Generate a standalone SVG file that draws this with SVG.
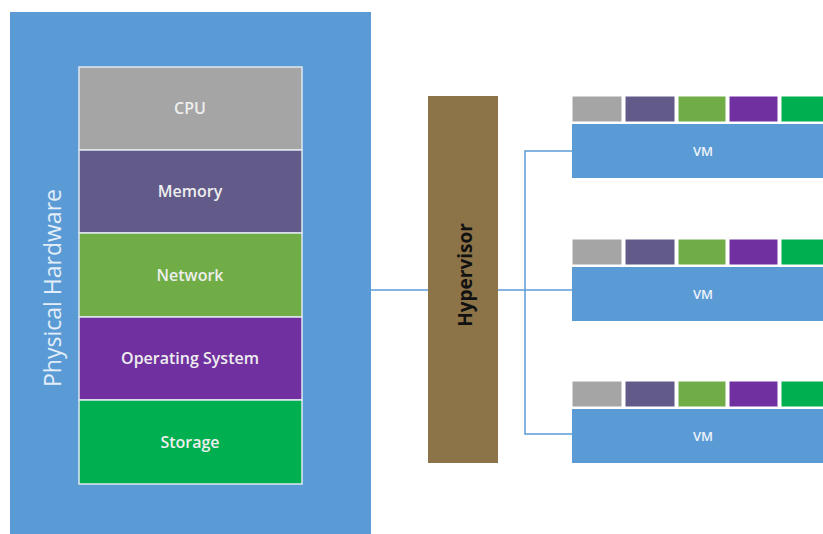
<svg xmlns="http://www.w3.org/2000/svg" width="823" height="534" viewBox="0 0 823 534">
<style>
.lbl{font-family:"Open Sans","Noto Sans",sans-serif;font-size:16px;font-weight:600;fill:#eeeeee;text-anchor:middle;dominant-baseline:central}
.vm{font-family:"Open Sans","Noto Sans",sans-serif;font-size:13px;font-weight:600;fill:#eef4fb;text-anchor:middle;dominant-baseline:central}
.layer{stroke:#dfe7f0;stroke-width:1.5}
.strip{stroke:#ffffff;stroke-width:1}
.conn{stroke:#5b9bd5;stroke-width:1.5;fill:none}
</style>
<rect width="823" height="534" fill="#ffffff"/>
<g id="physical-hardware">
<rect x="10" y="12" width="361" height="522" fill="#5b9bd5"/>
<text x="52" y="288" transform="rotate(-90 52 288)" font-family="Open Sans, Noto Sans, sans-serif" font-size="23" fill="#e3eef9" text-anchor="middle" dominant-baseline="central">Physical Hardware</text>
</g>
<g id="cpu"><rect class="layer" x="79" y="67" width="223" height="83" fill="#a5a5a5"/><text class="lbl" x="190" y="108">CPU</text></g>
<g id="memory"><rect class="layer" x="79" y="150" width="223" height="83" fill="#625a89"/><text class="lbl" x="190" y="191">Memory</text></g>
<g id="network"><rect class="layer" x="79" y="233" width="223" height="84" fill="#70ad47"/><text class="lbl" x="190" y="275">Network</text></g>
<g id="os"><rect class="layer" x="79" y="317" width="223" height="83" fill="#7030a0"/><text class="lbl" x="190" y="358">Operating System</text></g>
<g id="storage"><rect class="layer" x="79" y="400" width="223" height="84" fill="#00b050"/><text class="lbl" x="190" y="442">Storage</text></g>
<g id="connectors">
<line class="conn" x1="371" y1="290" x2="428" y2="290"/>
<line class="conn" x1="498" y1="290" x2="572" y2="290"/>
<polyline class="conn" points="572,151 525,151 525,434 572,434"/>
</g>
<g id="hypervisor">
<rect x="428" y="96" width="70" height="367" fill="#8c7448"/>
<text x="465" y="275" transform="rotate(-90 465 275)" font-family="Open Sans, Noto Sans, sans-serif" font-size="19" font-weight="bold" fill="#111111" text-anchor="middle" dominant-baseline="central">Hypervisor</text>
</g>
<g id="vm1">
<rect class="strip" x="572" y="96" width="50" height="26" fill="#a5a5a5"/>
<rect class="strip" x="625" y="96" width="50" height="26" fill="#625a89"/>
<rect class="strip" x="678" y="96" width="48" height="26" fill="#70ad47"/>
<rect class="strip" x="729" y="96" width="49" height="26" fill="#7030a0"/>
<rect class="strip" x="781" y="96" width="50" height="26" fill="#00b050"/>
<rect x="572" y="124" width="260" height="54" fill="#5b9bd5"/>
<text class="vm" x="703" y="151">VM</text>
</g>
<g id="vm2">
<rect class="strip" x="572" y="239" width="50" height="26" fill="#a5a5a5"/>
<rect class="strip" x="625" y="239" width="50" height="26" fill="#625a89"/>
<rect class="strip" x="678" y="239" width="48" height="26" fill="#70ad47"/>
<rect class="strip" x="729" y="239" width="49" height="26" fill="#7030a0"/>
<rect class="strip" x="781" y="239" width="50" height="26" fill="#00b050"/>
<rect x="572" y="267" width="260" height="54" fill="#5b9bd5"/>
<text class="vm" x="703" y="294">VM</text>
</g>
<g id="vm3">
<rect class="strip" x="572" y="381" width="50" height="26" fill="#a5a5a5"/>
<rect class="strip" x="625" y="381" width="50" height="26" fill="#625a89"/>
<rect class="strip" x="678" y="381" width="48" height="26" fill="#70ad47"/>
<rect class="strip" x="729" y="381" width="49" height="26" fill="#7030a0"/>
<rect class="strip" x="781" y="381" width="50" height="26" fill="#00b050"/>
<rect x="572" y="409" width="260" height="54" fill="#5b9bd5"/>
<text class="vm" x="703" y="436">VM</text>
</g>
</svg>
